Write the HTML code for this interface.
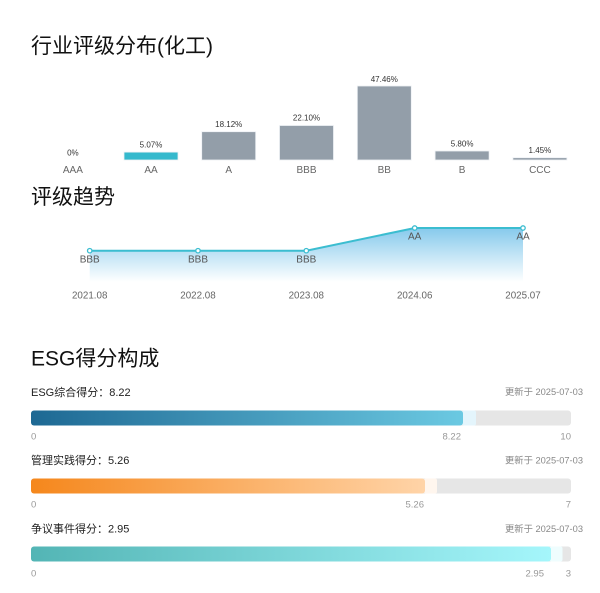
<!DOCTYPE html>
<html><head><meta charset="utf-8">
<style>
html,body{margin:0;padding:0;background:#fff;}
svg{display:block;font-family:"Liberation Sans","Noto Sans CJK SC",sans-serif;}
</style></head>
<body>
<svg width="600" height="593" viewBox="0 0 600 593" xmlns="http://www.w3.org/2000/svg">
<defs>
<linearGradient id="area" x1="0" y1="228" x2="0" y2="282" gradientUnits="userSpaceOnUse">
<stop offset="0" stop-color="#86c9ec"/>
<stop offset="1" stop-color="#ffffff"/>
</linearGradient>
<linearGradient id="g1" x1="0" x2="1" y1="0" y2="0">
<stop offset="0" stop-color="#1d6893"/>
<stop offset="1" stop-color="#6bc9e2"/>
</linearGradient>
<linearGradient id="g2" x1="0" x2="1" y1="0" y2="0">
<stop offset="0" stop-color="#f5871c"/>
<stop offset="1" stop-color="#ffd4a8"/>
</linearGradient>
<linearGradient id="g3" x1="0" x2="1" y1="0" y2="0">
<stop offset="0" stop-color="#53b5b5"/>
<stop offset="1" stop-color="#a5f6fb"/>
</linearGradient>
</defs>

<!-- Title 1 -->
<text x="31" y="46.5" font-size="21" fill="#111" dominant-baseline="central">行业评级分布(化工)</text>

<!-- Bars -->
<g fill="#939ea9" stroke="#eef1f4" stroke-width="0.8">
<rect x="124" y="152.1" width="54" height="7.9" fill="#35b9cd"/>
<rect x="201.7" y="131.7" width="54" height="28.3"/>
<rect x="279.5" y="125.5" width="54" height="34.5"/>
<rect x="357.3" y="86" width="54" height="74"/>
<rect x="435.1" y="151" width="54" height="9"/>
<rect x="512.9" y="157.7" width="54" height="2.3"/>
</g>
<g font-size="8" fill="#333" text-anchor="middle" dominant-baseline="central">
<text x="72.9" y="153">0%</text>
<text x="151" y="145">5.07%</text>
<text x="228.7" y="124.3">18.12%</text>
<text x="306.5" y="118.2">22.10%</text>
<text x="384.3" y="79.3">47.46%</text>
<text x="462.1" y="144">5.80%</text>
<text x="539.9" y="150.5">1.45%</text>
</g>
<g font-size="10" fill="#666" text-anchor="middle" dominant-baseline="central">
<text x="72.9" y="170.5">AAA</text>
<text x="151" y="170.5">AA</text>
<text x="228.7" y="170.5">A</text>
<text x="306.5" y="170.5">BBB</text>
<text x="384.3" y="170.5">BB</text>
<text x="462.1" y="170.5">B</text>
<text x="539.9" y="170.5">CCC</text>
</g>

<!-- Title 2 -->
<text x="31" y="197.5" font-size="21" fill="#111" dominant-baseline="central">评级趋势</text>

<!-- Trend -->
<path d="M89.7,250.7 L198,250.7 L306.3,250.7 L414.7,228 L523,228 L523,281.7 L89.7,281.7 Z" fill="url(#area)"/>
<polyline points="89.7,250.7 198,250.7 306.3,250.7 414.7,228 523,228" fill="none" stroke="#3bbdd0" stroke-width="2"/>
<g fill="#fff" stroke="#3bbdd0" stroke-width="1.3">
<circle cx="89.7" cy="250.7" r="2.2"/>
<circle cx="198" cy="250.7" r="2.2"/>
<circle cx="306.3" cy="250.7" r="2.2"/>
<circle cx="414.7" cy="228" r="2.2"/>
<circle cx="523" cy="228" r="2.2"/>
</g>
<g font-size="10" fill="#555" text-anchor="middle" dominant-baseline="central">
<text x="89.7" y="260">BBB</text>
<text x="198" y="260">BBB</text>
<text x="306.3" y="260">BBB</text>
<text x="414.7" y="237">AA</text>
<text x="523" y="237">AA</text>
</g>
<g font-size="9.8" fill="#666" text-anchor="middle" dominant-baseline="central">
<text x="89.7" y="296">2021.08</text>
<text x="198" y="296">2022.08</text>
<text x="306.3" y="296">2023.08</text>
<text x="414.7" y="296">2024.06</text>
<text x="523" y="296">2025.07</text>
</g>

<!-- Title 3 -->
<text x="31" y="359" font-size="21" fill="#111" dominant-baseline="central">ESG得分构成</text>

<!-- ESG composite -->
<text x="31" y="393" font-size="11" fill="#222" dominant-baseline="central">ESG综合得分：8.22</text>
<text x="583" y="392" font-size="9.3" fill="#888" text-anchor="end" dominant-baseline="central">更新于 2025-07-03</text>
<rect x="31" y="410.5" width="540" height="15" rx="3" fill="#e6e6e6"/>
<rect x="462" y="410.5" width="14" height="15" rx="2" fill="#e4f5fc"/>
<rect x="31" y="410.5" width="432" height="15" rx="3" fill="url(#g1)"/>
<g font-size="9.5" fill="#999" dominant-baseline="central">
<text x="31" y="437">0</text>
<text x="461" y="437" text-anchor="end">8.22</text>
<text x="571" y="437" text-anchor="end">10</text>
</g>

<!-- Management -->
<text x="31" y="461" font-size="11" fill="#222" dominant-baseline="central">管理实践得分：5.26</text>
<text x="583" y="460.5" font-size="9.3" fill="#888" text-anchor="end" dominant-baseline="central">更新于 2025-07-03</text>
<rect x="31" y="478.5" width="540" height="15" rx="3" fill="#e6e6e6"/>
<rect x="424" y="478.5" width="13" height="15" rx="2" fill="#fff6ee"/>
<rect x="31" y="478.5" width="394" height="15" rx="3" fill="url(#g2)"/>
<g font-size="9.5" fill="#999" dominant-baseline="central">
<text x="31" y="505">0</text>
<text x="424" y="505" text-anchor="end">5.26</text>
<text x="571" y="505" text-anchor="end">7</text>
</g>

<!-- Controversy -->
<text x="31" y="529.5" font-size="11" fill="#222" dominant-baseline="central">争议事件得分：2.95</text>
<text x="583" y="529" font-size="9.3" fill="#888" text-anchor="end" dominant-baseline="central">更新于 2025-07-03</text>
<rect x="31" y="546.5" width="540" height="15" rx="3" fill="#e6e6e6"/>
<rect x="549.5" y="546.5" width="13" height="15" rx="2" fill="#effdfe"/>
<rect x="31" y="546.5" width="520" height="15" rx="3" fill="url(#g3)"/>
<g font-size="9.5" fill="#999" dominant-baseline="central">
<text x="31" y="574">0</text>
<text x="544" y="574" text-anchor="end">2.95</text>
<text x="571" y="574" text-anchor="end">3</text>
</g>
</svg>
</body></html>
